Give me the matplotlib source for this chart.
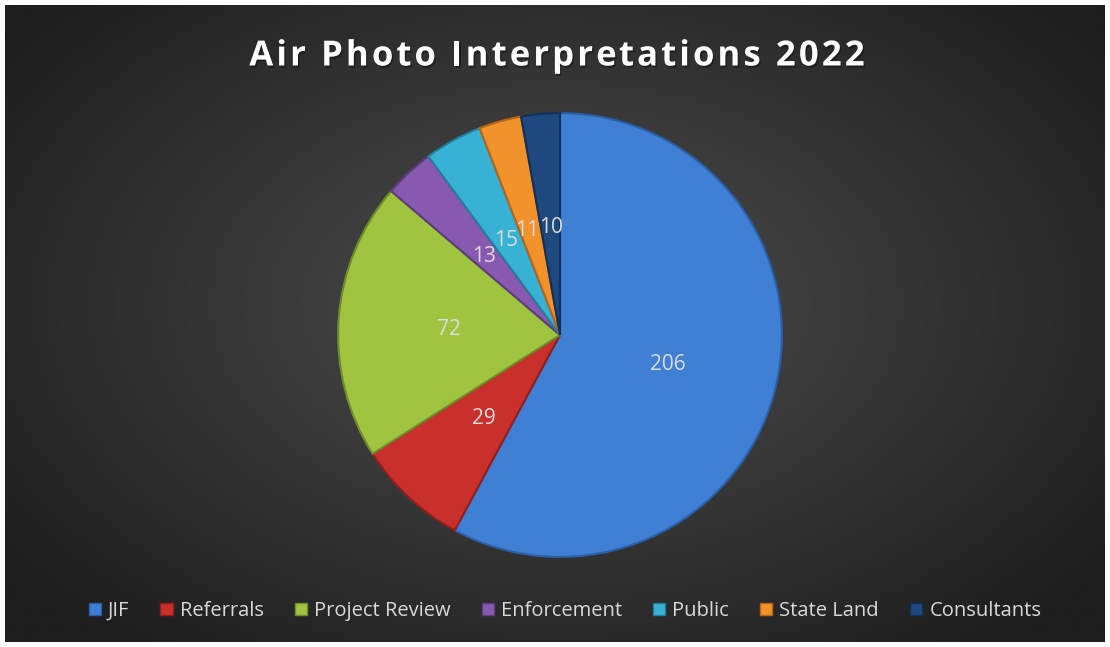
import numpy as np
import matplotlib
matplotlib.use("Agg")
import matplotlib.pyplot as plt
from matplotlib.patches import Rectangle
import matplotlib.patheffects as pe

categories = ["JIF", "Referrals", "Project Review", "Enforcement", "Public", "State Land", "Consultants"]
values = [206, 29, 72, 13, 15, 11, 10]
colors = ["#3f7fd4", "#c9302c", "#9fc440", "#8759b0", "#38b2d4", "#f2922a", "#1d497e"]
edges = ["#2b5fa6", "#8f1f1c", "#6f8c2a", "#5d3c80", "#22809c", "#b86416", "#11305a"]
title = "Air Photo Interpretations 2022"

W, H = 1110, 647
fig = plt.figure(figsize=(W / 100, H / 100), dpi=100)
fig.patch.set_facecolor("white")

# background with radial gradient
bg = fig.add_axes([5 / W, 5 / H, 1 - 10 / W, 1 - 10 / H])
bg.set_axis_off()
yy, xx = np.mgrid[0:300, 0:520]
cx, cy = 260, 140
d = np.sqrt(((xx - cx) / 520) ** 2 + ((yy - cy) / 330) ** 2)
d = np.clip(d / 0.62, 0, 1)
c0 = np.array([0x4e, 0x4e, 0x4e]) / 255
c1 = np.array([0x1e, 0x1e, 0x1e]) / 255
img = c0[None, None, :] * (1 - d[..., None]) + c1[None, None, :] * d[..., None]
bg.imshow(img, aspect="auto", extent=[0, 1, 0, 1], interpolation="bicubic")
bg.set_xlim(0, 1)
bg.set_ylim(0, 1)

# pie
r = 223
cxp, cyp = 560, H - 335
ax = fig.add_axes([(cxp - r) / W, (cyp - r) / H, 2 * r / W, 2 * r / H])
ax.set_facecolor("none")
wedges, texts = ax.pie(values, colors=colors, startangle=90, counterclock=False,
                       labels=[str(v) for v in values], labeldistance=0.5,
                       wedgeprops=dict(linewidth=1.5),
                       textprops=dict(color="#dcdcdc", fontsize=15, family="Open Sans"))
for w, e in zip(wedges, edges):
    w.set_edgecolor(e)
for i, t in enumerate(texts):
    t.set_ha("center")
    t.set_va("center")
    x, y = t.get_position()
    dx = -0.014 if i == 5 else (0.004 if i == 6 else 0.0)
    t.set_position((x + dx, y - 0.012))
ax.set_xlim(-1.005, 1.005)
ax.set_ylim(-1.005, 1.005)
ax.set_aspect("equal")

# title with letter spacing
renderer = fig.canvas.get_renderer()
tprops = dict(color="white", fontsize=25, fontweight="bold", family="Open Sans")
spacing = 3.1  # px
probe = fig.text(0, 0, title, **tprops)
full_w = probe.get_window_extent(renderer).width
probe.remove()
total_w = full_w + spacing * (len(title) - 1)
x0 = 557 - total_w / 2
ty = 1 - 52 / H
shadow = [pe.withSimplePatchShadow(offset=(1, -1.5), shadow_rgbFace="black", alpha=0.35)]
for i, ch in enumerate(title):
    if i == 0:
        pw = 0.0
    else:
        p = fig.text(0, 0, title[:i], **tprops)
        pw = p.get_window_extent(renderer).width
        p.remove()
    if ch.strip():
        fig.text((x0 + pw + spacing * i) / W, ty, ch, ha="left", va="center_baseline",
                 path_effects=shadow, **tprops)

handles = [Rectangle((0, 0), 1, 1, facecolor=c, edgecolor=e) for c, e in zip(colors, edges)]
leg = fig.legend(handles, categories, loc="center", bbox_to_anchor=(0.509, 1 - 611 / H),
                 ncol=7, frameon=False, handlelength=0.6, handleheight=0.6,
                 handletextpad=0.35, columnspacing=1.55,
                 prop=dict(family="Open Sans", size=14.5))
for t in leg.get_texts():
    t.set_color("#d9d9d9")

fig.savefig("out.png", dpi=100, facecolor=fig.get_facecolor())
